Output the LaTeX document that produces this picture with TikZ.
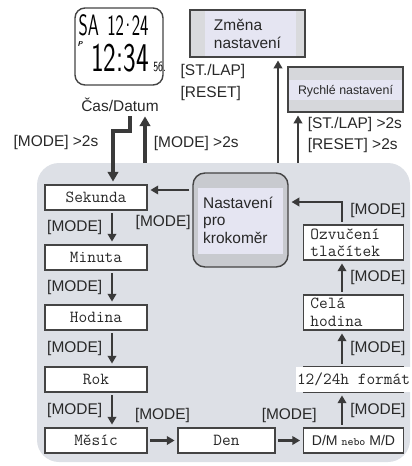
\documentclass[tikz,border=0pt]{standalone}
\usepackage{fontspec}
\setmainfont{Liberation Sans}
\usepackage{graphicx}
\usetikzlibrary{arrows.meta,positioning}

\definecolor{panelgray}{RGB}{221,224,230}
\definecolor{linegray}{RGB}{68,68,68}
\definecolor{arrgray}{RGB}{58,58,58}
\definecolor{textgray}{RGB}{40,40,40}
\definecolor{menugray}{RGB}{200,202,207}
\definecolor{menulight}{RGB}{229,229,242}

\tikzset{
  setbox/.style={draw=linegray, fill=white, line width=0.8pt, text=textgray,
    font=\ttfamily\fontsize{12}{12.5}\selectfont, minimum height=0.625cm, inner sep=0pt},
  leftbox/.style={setbox, minimum width=2.55cm},
  rightbox/.style={setbox, minimum width=2.5cm},
  twoline/.style={rightbox, minimum height=0.875cm, text width=2.15cm, align=left, inner xsep=0.175cm},
  arr/.style={draw=arrgray, line width=1.9pt, shorten <=2pt, shorten >=2pt,
    -{Triangle[length=5.5pt,width=6pt]}},
  bigarr/.style={arr, line width=2.7pt, -{Triangle[length=7pt,width=7.5pt]}},
  lbl/.style={text=textgray, font=\fontsize{11}{15}\selectfont, inner sep=1pt},
  lcd/.style={text=black, inner sep=0pt},
}

\begin{document}
\begin{tikzpicture}[x=0.025cm, y=-0.025cm]
\useasboundingbox (0,0) rectangle (412,466);

% watch face
\node[draw=linegray, line width=1pt, rounded corners=0.25cm, minimum width=2.2cm, minimum height=1.925cm] (watch) at (119,46.5) {};
\node[lcd] (lcdtop) at (113.5,25) {\sffamily\fontsize{21}{21}\selectfont\scalebox{0.6}[1]{SA\kern10pt 12\kern-3pt·\kern-3pt24}};
\node[lcd] (lcdtime) at (120,58.5) {\sffamily\fontsize{29}{29}\selectfont\scalebox{0.66}[1]{12:34}};
\node[lcd, anchor=base west] (lcdsec) at (153,72) {\sffamily\fontsize{10}{10}\selectfont\scalebox{0.7}[1]{56.}};
\node[lcd] (lcdp) at (80,44) {\sffamily\bfseries\itshape\fontsize{5}{5}\selectfont P};
\node[lbl] (datum) at (120,105) {Čas/Datum};

% setting mode panel
\fill[panelgray, rounded corners=0.55cm] (37,163) rectangle (410,462);

% menus above the panel
\node[draw=linegray, line width=1pt, fill=menugray!70, minimum width=2.875cm, minimum height=1.175cm] (zmena) at (247.5,33.5) {};
\fill[menulight] (205,11) rectangle (296,56);
\node[lbl, align=left, font=\fontsize{11}{12.8}\selectfont] (zmenatext) at (zmena) {Změna\\nastavení};

\node[draw=linegray, line width=1pt, fill=menugray!75, minimum width=2.875cm, minimum height=1.125cm] (rychle) at (345.5,89.5) {};
\fill[menulight] (289,80) rectangle (402,100);
\node[lbl, font=\fontsize{8.8}{10}\selectfont] (rychletext) at (345.5,91) {Rychlé nastavení};

\node[draw=linegray, line width=1pt, fill=menugray, rounded corners=0.3cm, minimum width=2.375cm, minimum height=2.35cm] (nast) at (240.5,220) {};
\fill[menulight] (198,188) rectangle (283,254);
\node[lbl, align=left, font=\fontsize{11}{12.4}\selectfont] (nasttext) at (238,220) {Nastavení\\pro\\krokoměr};

% left column
\node[leftbox] (sek) at (96,197.5) {Sekunda};
\node[leftbox] (min) at (96,257.5) {Minuta};
\node[leftbox] (hod) at (96,317.5) {Hodina};
\node[leftbox] (rok) at (96,379.5) {Rok};
\node[leftbox] (mes) at (96,440.5) {Měsíc};

% bottom row and right column
\node[setbox, minimum width=2.425cm] (den) at (226.5,440.5) {Den};
\node[rightbox] (dm) at (353.5,440.5) {\rmfamily\fontsize{10}{11}\selectfont D/M {\ttfamily\fontsize{8}{8}\selectfont nebo} M/D};
\node[rightbox] (fmt) at (353.5,379.5) {};
\node[setbox, draw=none, inner sep=1pt] (fmttext) at (fmt) {12/24h formát};
\node[twoline] (cela) at (353.5,312.5) {Celá\\hodina};
\node[twoline] (ozv) at (353.5,242.5) {Ozvučení\\tlačítek};

% time/date <-> settings
\coordinate (kink) at (113,131);
\draw[bigarr] ([xshift=0.25cm]datum.south) |- (kink) -- (kink |- sek.north);
\node[lbl, anchor=east] (modeleft) at (100,143) {[MODE] >2s};
\coordinate (up1) at (145,163);
\draw[bigarr, shorten <=0pt] (up1) -- (up1 |- datum.south) node[lbl, pos=0.4, right=4pt] {[MODE] >2s};

\coordinate (up2) at (278,163);
\draw[arr, shorten <=0pt] (up2) -- (up2 |- zmena.south);
\node[lbl, anchor=west, align=left] (stlap) at (179,82.5) {[ST./LAP]\\{[RESET]}};
\coordinate (up3) at (298,163);
\draw[arr, shorten <=0pt] (up3) -- (up3 |- rychle.south) node[lbl, pos=0.55, right=5pt, align=left] {[ST./LAP] >2s\\{[RESET] >2s}};

% left column steps
\coordinate (lx) at (112,0);
\draw[arr] (nast.west |- 0,190) -- (sek.east |- 0,190) node[lbl, pos=0.65, below=16pt] {[MODE]};
\draw[arr] (sek.south -| lx) -- (min.north -| lx) node[lbl, midway, left=5pt] {[MODE]};
\draw[arr] (min.south -| lx) -- (hod.north -| lx) node[lbl, midway, left=5pt] {[MODE]};
\draw[arr] (hod.south -| lx) -- (rok.north -| lx) node[lbl, midway, left=5pt] {[MODE]};
\draw[arr] (rok.south -| lx) -- (mes.north -| lx) node[lbl, midway, left=5pt] {[MODE]};

% bottom row
\draw[arr] (mes.east) -- (den.west) node[lbl, midway, above=11pt] {[MODE]};
\draw[arr] (den.east) -- (dm.west) node[lbl, midway, above=11pt] {[MODE]};

% right column steps
\coordinate (rx) at (342,0);
\draw[arr] (dm.north -| rx) -- (fmt.south -| rx) node[lbl, midway, right=4pt] {[MODE]};
\draw[arr] (fmt.north -| rx) -- (cela.south -| rx) node[lbl, midway, right=4pt] {[MODE]};
\draw[arr] (cela.north -| rx) -- (ozv.south -| rx) node[lbl, midway, right=4pt] {[MODE]};
\draw[arr] (ozv.north -| rx) |- (nast.east |- 0,202) node[lbl, pos=0.3, right=4pt] {[MODE]};
\end{tikzpicture}
\end{document}
